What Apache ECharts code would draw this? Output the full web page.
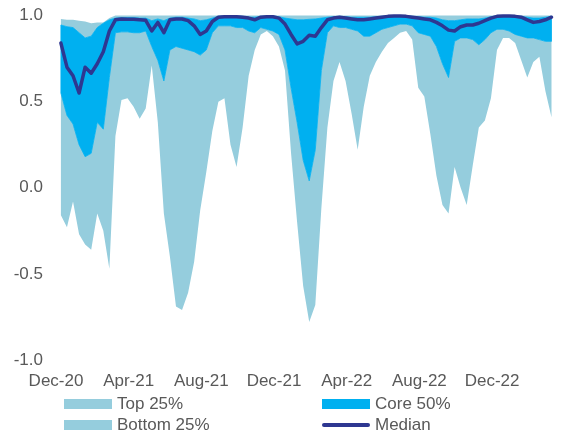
<!DOCTYPE html>
<html><head><meta charset="utf-8">
<script src="https://cdn.jsdelivr.net/npm/echarts@6/dist/echarts.min.js"></script>
<style>html,body{margin:0;padding:0;background:#fff}#c{width:563px;height:439px}</style>
</head><body><div id="c"></div>
<script>
// x tick labels (every 4 months, month index 0 = Dec-20)
const tickLabels = ['Dec-20','Apr-21','Aug-21','Dec-21','Apr-22','Aug-22','Dec-22'];
const yTicks = [-1.0, -0.5, 0.0, 0.5, 1.0];
// observations every ~10 days starting shortly after start of Dec-20 (in months)
const startMonth = 0.27;
const stepMonth = 1/3;

const minVals = [-0.16,-0.23,-0.08,-0.27,-0.33,-0.36,-0.15,-0.25,-0.47,0.30,
 0.51,0.52,0.47,0.40,0.46,0.71,0.38,-0.15,-0.40,-0.69,
 -0.71,-0.61,-0.43,-0.13,0.09,0.33,0.50,0.52,0.25,0.12,
 0.35,0.65,0.80,0.89,0.91,0.88,0.82,0.68,0.20,-0.20,
 -0.57,-0.78,-0.68,-0.12,0.35,0.62,0.73,0.62,0.43,0.22,
 0.47,0.65,0.73,0.79,0.84,0.87,0.90,0.91,0.86,0.58,
 0.53,0.31,0.07,-0.10,-0.15,0.12,0.0,-0.10,0.13,0.35,
 0.39,0.52,0.80,0.87,0.87,0.84,0.74,0.64,0.73,0.76,
 0.56,0.41];
const q1Vals = [0.55,0.42,0.37,0.25,0.18,0.20,0.38,0.34,0.64,0.90,
 0.905,0.905,0.90,0.90,0.91,0.82,0.74,0.62,0.80,0.82,
 0.81,0.80,0.79,0.77,0.80,0.90,0.94,0.94,0.94,0.93,
 0.93,0.91,0.90,0.93,0.92,0.91,0.89,0.80,0.58,0.38,
 0.16,0.04,0.22,0.68,0.90,0.94,0.93,0.93,0.92,0.91,
 0.88,0.88,0.90,0.92,0.93,0.94,0.95,0.95,0.94,0.90,
 0.89,0.88,0.82,0.72,0.64,0.85,0.87,0.87,0.86,0.83,
 0.86,0.90,0.92,0.92,0.91,0.89,0.88,0.87,0.87,0.86,
 0.85,0.85];
const medianVals = [0.84,0.70,0.65,0.55,0.70,0.665,0.72,0.79,0.91,0.975,
 0.98,0.978,0.978,0.975,0.972,0.91,0.96,0.90,0.975,0.98,
 0.98,0.97,0.94,0.89,0.91,0.965,0.99,0.993,0.993,0.993,
 0.99,0.985,0.975,0.99,0.993,0.993,0.985,0.95,0.89,0.835,
 0.85,0.885,0.88,0.93,0.975,0.985,0.99,0.985,0.98,0.975,
 0.975,0.98,0.985,0.99,0.995,0.997,0.997,0.995,0.99,0.985,
 0.98,0.975,0.96,0.94,0.915,0.91,0.935,0.945,0.945,0.955,
 0.97,0.985,0.995,0.997,0.997,0.995,0.99,0.975,0.96,0.965,
 0.975,0.99];
const q3Vals = [0.945,0.935,0.93,0.90,0.87,0.88,0.93,0.955,0.975,0.985,
 0.988,0.988,0.988,0.985,0.985,0.97,0.98,0.97,0.985,0.99,
 0.99,0.985,0.98,0.97,0.975,0.985,0.995,0.997,0.997,0.997,
 0.995,0.99,0.99,0.995,0.997,0.997,0.993,0.985,0.98,0.975,
 0.975,0.978,0.98,0.985,0.99,0.993,0.995,0.993,0.99,0.99,
 0.99,0.99,0.993,0.995,0.998,0.999,0.999,0.998,0.995,0.993,
 0.99,0.99,0.985,0.975,0.97,0.97,0.975,0.98,0.98,0.98,
 0.985,0.993,0.998,0.999,0.999,0.998,0.995,0.99,0.985,0.985,
 0.99,0.995];
const maxVals = [0.98,0.975,0.975,0.97,0.965,0.955,0.96,0.96,0.985,1.0,
 1.0,1.0,1.0,1.0,1.0,1.0,1.0,1.0,1.0,1.0,
 1.0,1.0,1.0,1.0,1.0,1.0,1.0,1.0,1.0,1.0,
 1.0,1.0,1.0,1.0,1.0,1.0,1.0,1.0,1.0,1.0,
 1.0,1.0,1.0,1.0,1.0,1.0,1.0,1.0,1.0,1.0,
 1.0,1.0,1.0,1.0,1.0,1.0,1.0,1.0,1.0,1.0,
 1.0,1.0,1.0,1.0,1.0,1.0,1.0,1.0,1.0,1.0,
 1.0,1.0,1.0,1.0,1.0,1.0,1.0,1.0,1.0,1.0,
 1.0,1.0];

const LIGHT = '#95CDDD', CORE = '#00B0F0', MED = '#2E3791', TXT = '#595959';
const FONT = '"Liberation Sans", Arial, sans-serif';

const xs = minVals.map((_, i) => startMonth + i * stepMonth);
const pairs = arr => arr.map((v, i) => [xs[i], v]);

// A filled band between two quantile series, drawn through the cartesian scales.
const band = (name, lower, upper, color, z, stroke) => ({
  name, type: 'custom', coordinateSystem: 'cartesian2d', z, silent: true,
  itemStyle: {color},
  data: [[xs[0], lower[0]]],
  encode: {x: 0, y: 1},
  renderItem: (params, api) => {
    const pts = [];
    for (let i = 0; i < xs.length; i++) pts.push(api.coord([xs[i], upper[i]]));
    for (let i = xs.length - 1; i >= 0; i--) pts.push(api.coord([xs[i], lower[i]]));
    return {
      type: 'polygon', shape: {points: pts},
      style: stroke ? {fill: color, stroke: color, lineWidth: 0.8, lineJoin: 'round'} : {fill: color}
    };
  }
});

const chart = echarts.init(document.getElementById('c'), null, {renderer: 'canvas'});
const MEDIAN_ICON = 'path://M2,0 L46,0 A2,2 0 0 1 46,4 L2,4 A2,2 0 0 1 2,0 Z';
chart.setOption({
  animation: false,
  grid: {left: 56, right: 11.5, top: 15.5, bottom: 79, containLabel: false},
  xAxis: {
    type: 'value', min: 0, max: startMonth + (minVals.length - 1) * stepMonth, interval: 4,
    axisLine: {show: false}, axisTick: {show: false}, splitLine: {show: false},
    axisLabel: {
      margin: 13, color: TXT, fontSize: 17, fontFamily: FONT,
      showMinLabel: true, showMaxLabel: true,
      formatter: v => {
        const k = v / 4;
        return (Math.abs(k - Math.round(k)) < 1e-6 && tickLabels[Math.round(k)]) ? tickLabels[Math.round(k)] : '';
      }
    }
  },
  yAxis: {
    type: 'value', min: yTicks[0], max: yTicks[yTicks.length - 1], interval: 0.5,
    axisLine: {show: false}, axisTick: {show: false}, splitLine: {show: false},
    axisLabel: {margin: 13, color: TXT, fontSize: 17, fontFamily: FONT, formatter: v => v.toFixed(1)}
  },
  legend: [
    {orient: 'vertical', left: 64, top: 395.5, padding: 0, itemGap: 4, itemWidth: 48, itemHeight: 10,
     textStyle: {color: TXT, fontSize: 17, fontFamily: FONT, lineHeight: 17},
     data: [{name: 'Top 25%', icon: 'rect'}, {name: 'Bottom 25%', icon: 'rect'}]},
    {orient: 'vertical', left: 322, top: 395.5, padding: 0, itemGap: 4, itemWidth: 48, itemHeight: 10,
     textStyle: {color: TXT, fontSize: 17, fontFamily: FONT, lineHeight: 17},
     data: [{name: 'Core 50%', icon: 'rect'}, {name: 'Median', icon: MEDIAN_ICON}]}
  ],
  series: [
    band('Bottom 25%', minVals, q1Vals, LIGHT, 1, false),
    band('Top 25%', q3Vals, maxVals, LIGHT, 1, false),
    band('Core 50%', q1Vals, q3Vals, CORE, 2, true),
    {name: 'Median', type: 'line', data: pairs(medianVals), symbol: 'none', color: MED,
     lineStyle: {width: 3.5, color: MED, cap: 'round', join: 'round'}, z: 5}
  ]
});
</script></body></html>
